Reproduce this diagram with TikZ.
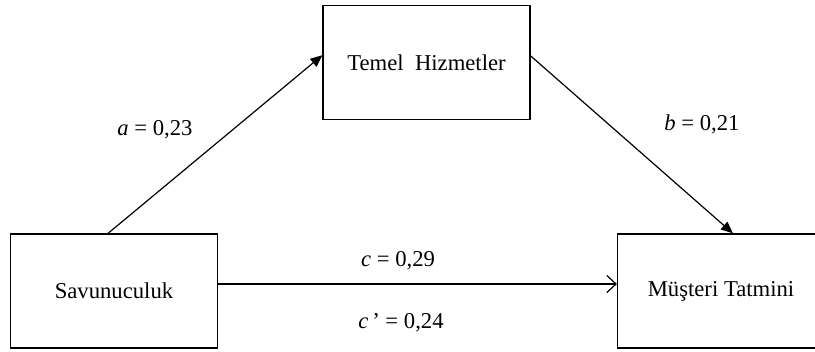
\documentclass[tikz,border=0pt]{standalone}
\usepackage{fontspec}
\setmainfont{Liberation Serif}
\usetikzlibrary{arrows.meta}

\tikzset{every picture/.style={line width=0.9pt}}
\tikzset{
  varbox/.style={draw, rectangle, minimum width=155.25pt, minimum height=85.5pt, inner sep=0pt, font=\fontsize{17}{20}\selectfont},
  coef/.style={inner sep=0.75pt, font=\fontsize{17}{20}\selectfont},
  solid tip/.style={-{Triangle[length=9pt,width=7.5pt]}},
  open tip/.style={-{Straight Barb[length=7pt,width=13pt,line width=0.9pt]}}
}

\begin{document}
\begin{tikzpicture}[x=0.75pt,y=0.75pt,yscale=-1,xscale=1]
\useasboundingbox (0,0) rectangle (815,351);
\clip (0,0) rectangle (815,351);

% Boxes
\node [varbox] (sav) at (114,291) {Savunuculuk};
\node [varbox] (temel) at (426.5,62.5) {Temel\ \ Hizmetler};
\node [varbox] (mus) at (721,291) {Müşteri Tatmini};

% Paths
\draw [solid tip] ([xshift=-4.5pt]sav.north) -- ([yshift=-5.5pt]temel.west) ;
\draw [solid tip] ([yshift=-5pt]temel.east) -- ([xshift=9pt]mus.north) ;
\draw [open tip] ([yshift=-5.25pt]sav.east) -- ([yshift=-5.25pt]mus.west) ;

% Text Node
\node [coef] (lbla) at (155,130) {\textit{a} = 0,23};
% Text Node
\node [coef] (lblb) at (702,124) {\textit{b} = 0,21};
% Text Node
\node [coef] (lblc) at (398,261) {\textit{c} = 0,29};
% Text Node
\node [coef] (lblcp) at (401,323) {\textit{c}\,’ = 0,24};

\end{tikzpicture}
\end{document}
